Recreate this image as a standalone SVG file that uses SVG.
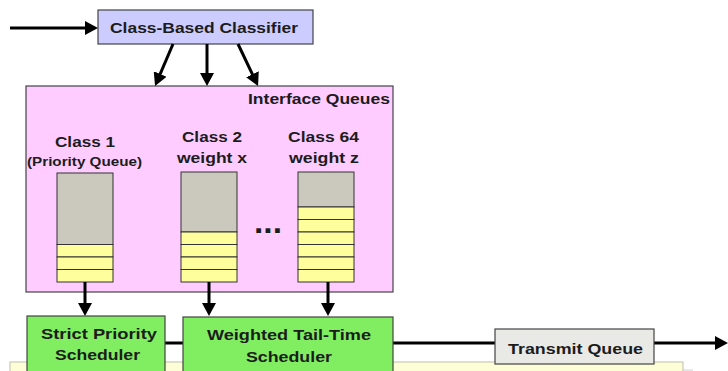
<svg xmlns="http://www.w3.org/2000/svg" width="728" height="371" viewBox="0 0 728 371">
  <defs>
    <marker id="arrow" markerUnits="userSpaceOnUse" markerWidth="14" markerHeight="14" refX="5" refY="7" orient="auto">
      <path d="M0,0 L13,7 L0,14 z" fill="#000"/>
    </marker>
    <style>
      .lbl { font-family: "Liberation Sans", Arial, sans-serif; font-weight: bold; fill: #1c1c1c; }
      .box { stroke: #444; stroke-width: 1.2; }
      .wire { stroke: #000; stroke-width: 3; fill: none; }
      .gray { fill: #cbc8bd; stroke: #333; stroke-width: 1; }
      .slot { fill: #fffe9c; stroke: #333; stroke-width: 1; }
    </style>
  </defs>

  <rect width="728" height="371" fill="#fff"/>

  <!-- lower panel behind the schedulers -->
  <g id="bottom-panel">
    <rect x="10" y="362" width="673" height="20" fill="#fefed6" stroke="#bdbdb0" stroke-width="1"/>
    <line x1="683" y1="370" x2="693" y2="370" stroke="#d0d0d0" stroke-width="1"/>
  </g>

  <g id="classifier">
    <rect class="box" x="98" y="10" width="215" height="34" fill="#ccccff"/>
    <text class="lbl" x="110" y="33" font-size="15" textLength="188" lengthAdjust="spacingAndGlyphs">Class-Based Classifier</text>
  </g>

  <g id="interface-queues">
    <rect class="box" x="26" y="86" width="367" height="206" fill="#ffccff"/>
    <text class="lbl" x="248" y="104" font-size="15" textLength="142" lengthAdjust="spacingAndGlyphs">Interface Queues</text>
  </g>

  <g id="queue-class1">
    <text class="lbl" x="55" y="147" font-size="15.5" textLength="60" lengthAdjust="spacingAndGlyphs">Class 1</text>
    <text class="lbl" x="27" y="166" font-size="12.5" textLength="115" lengthAdjust="spacingAndGlyphs">(Priority Queue)</text>
    <rect class="gray" x="57" y="173" width="56" height="71.5"/>
    <rect class="slot" x="57" y="244.5" width="56" height="12.5"/>
    <rect class="slot" x="57" y="257" width="56" height="12.5"/>
    <rect class="slot" x="57" y="269.5" width="56" height="12.5"/>
  </g>

  <g id="queue-class2">
    <text class="lbl" x="182" y="142" font-size="15.5" textLength="60" lengthAdjust="spacingAndGlyphs">Class 2</text>
    <text class="lbl" x="177" y="163" font-size="15.5" textLength="70" lengthAdjust="spacingAndGlyphs">weight x</text>
    <rect class="gray" x="181" y="172" width="56" height="60"/>
    <rect class="slot" x="181" y="232" width="56" height="12.5"/>
    <rect class="slot" x="181" y="244.5" width="56" height="12.5"/>
    <rect class="slot" x="181" y="257" width="56" height="12.5"/>
    <rect class="slot" x="181" y="269.5" width="56" height="12.5"/>
  </g>

  <g id="ellipsis">
    <text class="lbl" x="254" y="233" font-size="32" textLength="28" lengthAdjust="spacingAndGlyphs">...</text>
  </g>

  <g id="queue-class64">
    <text class="lbl" x="288" y="142" font-size="15.5" textLength="71" lengthAdjust="spacingAndGlyphs">Class 64</text>
    <text class="lbl" x="289" y="163" font-size="15.5" textLength="70" lengthAdjust="spacingAndGlyphs">weight z</text>
    <rect class="gray" x="298" y="172" width="56" height="35"/>
    <rect class="slot" x="298" y="207" width="56" height="12.5"/>
    <rect class="slot" x="298" y="219.5" width="56" height="12.5"/>
    <rect class="slot" x="298" y="232" width="56" height="12.5"/>
    <rect class="slot" x="298" y="244.5" width="56" height="12.5"/>
    <rect class="slot" x="298" y="257" width="56" height="12.5"/>
    <rect class="slot" x="298" y="269.5" width="56" height="12.5"/>
  </g>

  <g id="connectors">
    <line class="wire" x1="10" y1="28" x2="90" y2="28" marker-end="url(#arrow)"/>
    <line class="wire" x1="173" y1="44" x2="158.2" y2="78.6" marker-end="url(#arrow)"/>
    <line class="wire" x1="207" y1="44" x2="207" y2="78" marker-end="url(#arrow)"/>
    <line class="wire" x1="238" y1="44" x2="254.6" y2="78.8" marker-end="url(#arrow)"/>
    <line class="wire" x1="85" y1="282" x2="85" y2="308" marker-end="url(#arrow)"/>
    <line class="wire" x1="209" y1="282" x2="209" y2="308" marker-end="url(#arrow)"/>
    <line class="wire" x1="328" y1="282" x2="328" y2="308" marker-end="url(#arrow)"/>
    <line class="wire" x1="165" y1="343" x2="183" y2="343"/>
    <line class="wire" x1="393" y1="343" x2="495" y2="343"/>
    <line class="wire" x1="654" y1="343" x2="720" y2="343" marker-end="url(#arrow)"/>
  </g>

  <g id="strict-priority-scheduler">
    <rect class="box" x="27" y="316" width="138" height="70" fill="#80ee60"/>
    <text class="lbl" x="41" y="339" font-size="15.5" textLength="116" lengthAdjust="spacingAndGlyphs">Strict Priority</text>
    <text class="lbl" x="55" y="360" font-size="15.5" textLength="85" lengthAdjust="spacingAndGlyphs">Scheduler</text>
  </g>

  <g id="weighted-tail-time-scheduler">
    <rect class="box" x="183" y="317" width="210" height="70" fill="#80ee60"/>
    <text class="lbl" x="207" y="340" font-size="15.5" textLength="164" lengthAdjust="spacingAndGlyphs">Weighted Tail-Time</text>
    <text class="lbl" x="246" y="362" font-size="15.5" textLength="86" lengthAdjust="spacingAndGlyphs">Scheduler</text>
  </g>

  <g id="transmit-queue">
    <rect class="box" x="495" y="329" width="159" height="35" fill="#e9e9e6"/>
    <text class="lbl" x="508" y="354" font-size="15.5" textLength="135" lengthAdjust="spacingAndGlyphs">Transmit Queue</text>
  </g>
</svg>
